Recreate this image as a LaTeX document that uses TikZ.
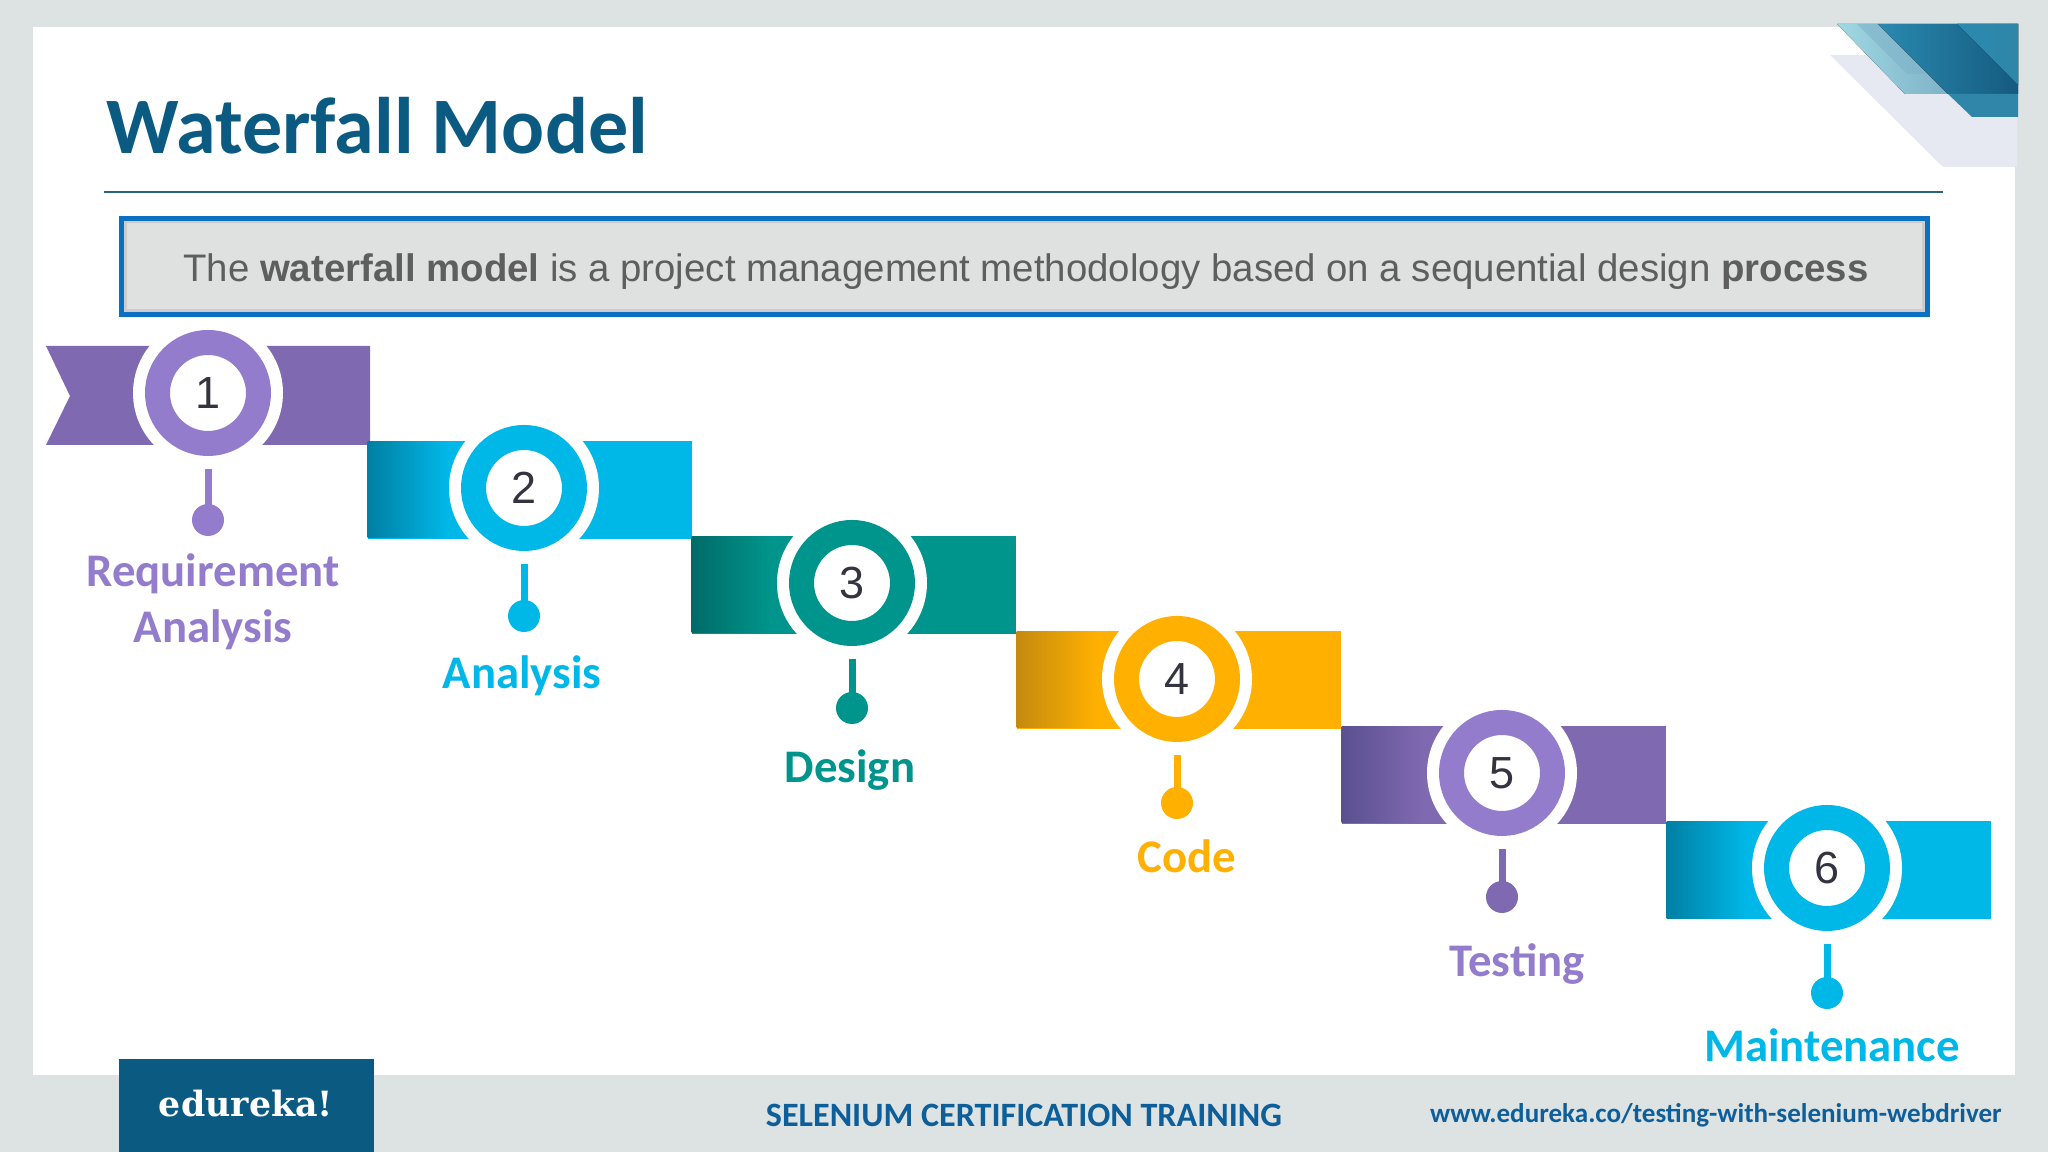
\documentclass[tikz,border=0pt]{standalone}
\usepackage{fontspec}
\setmainfont{Carlito}
\newfontfamily\barfont{Liberation Sans}
\newfontfamily\logofont{DejaVu Serif}
\usetikzlibrary{positioning, calc}
\definecolor{wfframe}{HTML}{DDE3E2}
\definecolor{wfnavy}{HTML}{0B5A82}
\definecolor{wfrule}{HTML}{2A6478}
\definecolor{wfbar}{HTML}{0B6FC2}
\definecolor{wfbarfill}{HTML}{DFE1E0}
\definecolor{wfgrey}{HTML}{5E5E5E}
\definecolor{wfpurple}{HTML}{947CCD}
\definecolor{wfribpurple}{HTML}{7F69B0}
\definecolor{wfdarkpurple}{HTML}{5A5090}
\definecolor{wfcyan}{HTML}{00B8E8}
\definecolor{wfdarkcyan}{HTML}{007FA3}
\definecolor{wfteal}{HTML}{00958C}
\definecolor{wfdarkteal}{HTML}{006B68}
\definecolor{wfamber}{HTML}{FFB000}
\definecolor{wfdarkamber}{HTML}{C48A10}
\definecolor{wfdigit}{HTML}{33343F}
\definecolor{wffoot}{HTML}{0E5E9A}
\definecolor{wfpale}{HTML}{E6E9F1}
\definecolor{wfsky}{HTML}{9FD8E2}
\definecolor{wfskydark}{HTML}{7FB2C8}
\definecolor{wfdeep}{HTML}{2A8AB0}
\definecolor{wfdeepdark}{HTML}{155A80}
\definecolor{wfmid}{HTML}{2F86A8}

\begin{document}
\begin{tikzpicture}[
    ribbon/.style={
        rectangle,
        fill=#1,
        minimum width=3.24cm,
        minimum height=0.98cm,
        inner sep=0pt,
        anchor=north west
    },
    ribfade/.style 2 args={
        rectangle,
        left color=#1,
        right color=#2,
        minimum width=0.8cm,
        minimum height=0.965cm,
        inner sep=0pt,
        anchor=west
    },
    halo/.style={
        circle,
        fill=white,
        minimum size=1.5cm,
        inner sep=0pt
    },
    ring/.style={
        circle,
        draw=#1,
        fill=white,
        line width=0.25cm,
        minimum size=1.01cm,
        inner sep=0pt,
        text=wfdigit,
        font=\barfont\fontsize{12.8}{13}\selectfont
    },
    ball/.style={
        circle,
        fill=#1,
        minimum size=0.32cm,
        inner sep=0pt
    },
    stem/.style={
        line width=0.07cm,
        shorten <=0.13cm,
        shorten >=-0.05cm,
        #1
    },
    steplabel/.style={
        font=\bfseries\fontsize{13.3}{16}\selectfont,
        text=#1,
        align=center,
        inner sep=0pt
    }
]

% Frame and slide
\fill[wfframe] (0,0) rectangle (20.48,11.52);
\fill[white] (0.33,0.77) rectangle (20.15,11.25);
\useasboundingbox (0,0) rectangle (20.48,11.52);

% Corner decoration
\fill[wfpale] (18.30,10.97) -- (20.17,10.97) -- (20.17,9.85) -- (19.43,9.85) -- cycle;
\fill[left color=wfsky, right color=wfskydark] (18.37,11.28) -- (18.78,11.28) -- (19.48,10.58) -- (19.05,10.58) -- cycle;
\fill[wfskydark, opacity=0.6] (18.57,11.28) -- (18.78,11.28) -- (19.28,10.78) -- (19.07,10.78) -- cycle;
\fill[left color=wfdeep, right color=wfdeepdark] (18.78,11.28) -- (20.18,11.28) -- (20.18,10.58) -- (19.48,10.58) -- cycle;
\fill[left color=wfdeep, right color=wfmid] (19.57,11.28) -- (20.18,11.28) -- (20.18,10.67) -- cycle;
\fill[wfmid] (19.48,10.58) -- (20.18,10.58) -- (20.18,10.35) -- (19.72,10.35) -- cycle;

% Title
\node[font=\bfseries\fontsize{22.8}{23}\selectfont, text=wfnavy, inner sep=0pt, anchor=west] (title) at (1.06,10.26) {Waterfall Model};
\coordinate (ruleL) at (1.04,9.60);
\coordinate (ruleR) at (19.43,9.60);
\draw[wfrule, line width=0.02cm] (ruleL) -- (ruleR);

% Definition bar
\node[rectangle, draw=wfbar, fill=wfbarfill, line width=0.05cm, minimum width=18.05cm, minimum height=0.96cm, inner sep=0pt] (bar) at (10.245,8.855) {};
\draw[black!20, line width=0.025cm] ([shift={(0.0625,-0.0625)}]bar.north west) rectangle ([shift={(-0.0625,0.0625)}]bar.south east);
\node[font=\barfont\fontsize{10.92}{14}\selectfont, text=wfgrey, inner sep=0pt] (bartext) at (10.26,8.80) {The \textbf{waterfall model} is a project management methodology based on a sequential design \textbf{process}};

% Ribbons
\fill[wfribpurple] (0.46,8.06) -- (3.70,8.06) -- (3.70,7.07) -- (0.46,7.07) -- (0.70,7.56) -- cycle;
\node[ribbon=wfcyan] (rib2) at (3.67,7.12) {};
\node[ribfade={wfdarkcyan}{wfcyan}] (fade2) at (rib2.west) {};
\node[ribbon=wfteal] (rib3) at (6.91,6.17) {};
\node[ribfade={wfdarkteal}{wfteal}] (fade3) at (rib3.west) {};
\node[ribbon=wfamber] (rib4) at (10.16,5.22) {};
\node[ribfade={wfdarkamber}{wfamber}] (fade4) at (rib4.west) {};
\node[ribbon=wfribpurple] (rib5) at (13.41,4.27) {};
\node[ribfade={wfdarkpurple}{wfribpurple}] (fade5) at (rib5.west) {};
\node[ribbon=wfcyan] (rib6) at (16.66,3.315) {};
\node[ribfade={wfdarkcyan}{wfcyan}] (fade6) at (rib6.west) {};

% Numbered circles
\node[halo] (halo1) at (2.08,7.59) {};
\node[halo] (halo2) at (5.24,6.64) {};
\node[halo] (halo3) at (8.52,5.69) {};
\node[halo] (halo4) at (11.77,4.73) {};
\node[halo] (halo5) at (15.02,3.79) {};
\node[halo] (halo6) at (18.27,2.84) {};
\node[ring=wfpurple] (c1) at (2.08,7.59) {1};
\node[ring=wfcyan] (c2) at (5.24,6.64) {2};
\node[ring=wfteal] (c3) at (8.52,5.69) {3};
\node[ring=wfamber] (c4) at (11.77,4.73) {4};
\node[ring=wfpurple] (c5) at (15.02,3.79) {5};
\node[ring=wfcyan] (c6) at (18.27,2.84) {6};

% Pins
\node[ball=wfpurple] (b1) at (2.08,6.32) {};
\node[ball=wfcyan] (b2) at (5.24,5.36) {};
\node[ball=wfteal] (b3) at (8.52,4.44) {};
\node[ball=wfamber] (b4) at (11.77,3.49) {};
\node[ball=wfribpurple] (b5) at (15.02,2.55) {};
\node[ball=wfcyan] (b6) at (18.27,1.59) {};
\draw[stem=wfpurple] (c1) -- (b1);
\draw[stem=wfcyan] (c2) -- (b2);
\draw[stem=wfteal] (c3) -- (b3);
\draw[stem=wfamber] (c4) -- (b4);
\draw[stem=wfribpurple] (c5) -- (b5);
\draw[stem=wfcyan] (c6) -- (b6);

% Labels
\node[steplabel=wfpurple] (l1) at (2.13,5.50) {Requirement\\Analysis};
\node[steplabel=wfcyan] (l2) at (5.22,4.76) {Analysis};
\node[steplabel=wfteal] (l3) at (8.50,3.815) {Design};
\node[steplabel=wfamber] (l4) at (11.87,2.955) {Code};
\node[steplabel=wfpurple] (l5) at (15.17,1.875) {Testing};
\node[steplabel=wfcyan] (l6) at (18.32,1.07) {Maintenance};

% Footer
\node[rectangle, fill=wfnavy, minimum width=2.55cm, minimum height=0.94cm, inner sep=0pt, anchor=north west] (logobox) at (1.18,0.94) {};
\node[font=\logofont\bfseries\fontsize{9.9}{10}\selectfont, text=white, inner sep=0pt] (logo) at (2.46,0.485) {edureka!};
\node[font=\bfseries\fontsize{9.7}{10}\selectfont, text=wffoot, inner sep=0pt] (course) at (10.24,0.365) {SELENIUM CERTIFICATION TRAINING};
\node[font=\bfseries\fontsize{7.7}{8}\selectfont, text=wffoot, inner sep=0pt] (site) at (17.16,0.365) {www.edureka.co/testing-with-selenium-webdriver};

\end{tikzpicture}
\end{document}
